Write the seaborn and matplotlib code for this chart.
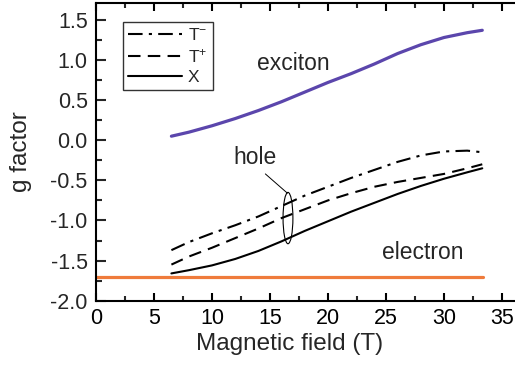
import matplotlib
matplotlib.use("Agg")
import matplotlib.pyplot as plt
from matplotlib.patches import Ellipse
import seaborn as sns
import numpy as np

# Magnetic field values (T) at which the g factors are given
field = [6.5, 8, 10, 12, 14, 16, 18, 20, 22, 24, 26, 28, 30, 32, 33.3]

# Hole g factor for the three complexes
g_trion_minus = [-1.37, -1.27, -1.16, -1.06, -0.95, -0.82, -0.69, -0.58,
                 -0.47, -0.37, -0.27, -0.19, -0.14, -0.13, -0.15]
g_trion_plus = [-1.55, -1.45, -1.34, -1.22, -1.10, -0.97, -0.86, -0.75,
                -0.66, -0.58, -0.52, -0.47, -0.42, -0.35, -0.30]
g_exciton_hole = [-1.66, -1.62, -1.56, -1.48, -1.38, -1.26, -1.13, -1.01,
                  -0.89, -0.78, -0.67, -0.57, -0.48, -0.40, -0.35]

# Exciton g factor
g_exciton = [0.05, 0.10, 0.18, 0.27, 0.37, 0.48, 0.60, 0.72,
             0.83, 0.95, 1.08, 1.19, 1.28, 1.34, 1.37]

# Electron g factor (field independent)
electron_field = [0, 33.4]
g_electron = [-1.71, -1.71]

legend_labels = ["T$^{-}$", "T$^{+}$", "X"]

sns.set_style("ticks")
plt.rcParams["font.family"] = ["Liberation Sans", "DejaVu Sans"]
plt.rcParams["mathtext.default"] = "regular"

W, H = 515, 369
fig = plt.figure(figsize=(W / 100, H / 100), dpi=100)
ax_left, ax_bottom, ax_top = 96, 300.7, 3
ax_width_px = 464  # x axis runs 0..40, wider than the figure
ax = fig.add_axes([ax_left / W, (H - ax_bottom) / H,
                   ax_width_px / W, (ax_bottom - ax_top) / H])

lw = 1.5
sns.lineplot(x=field, y=g_trion_minus, ax=ax, color="black", lw=lw,
             linestyle=(0, (7, 3, 1.5, 3)), label=legend_labels[0])
sns.lineplot(x=field, y=g_trion_plus, ax=ax, color="black", lw=lw,
             linestyle=(0, (6, 3.5)), label=legend_labels[1])
sns.lineplot(x=field, y=g_exciton_hole, ax=ax, color="black", lw=lw,
             linestyle="-", label=legend_labels[2])
sns.lineplot(x=field, y=g_exciton, ax=ax, color="#5B46AC", lw=2.3)
sns.lineplot(x=electron_field, y=g_electron, ax=ax, color="#EF7B3B", lw=2.3)

ax.set_xlim(0, 40)
ax.set_ylim(-2.0, 1.71)
ax.set_xticks(np.arange(0, 40.1, 5))
ax.set_xticks(np.arange(2.5, 40, 5), minor=True)
ax.set_yticks(np.arange(-2.0, 1.51, 0.5))
ax.set_yticks(np.arange(-1.75, 1.6, 0.5), minor=True)
ax.set_yticklabels([f"{v:.1f}" for v in np.arange(-2.0, 1.51, 0.5)])

for side in ["left", "bottom", "top"]:
    ax.spines[side].set_linewidth(1.5)
    ax.spines[side].set_color("black")
ax.spines["right"].set_visible(False)

ax.tick_params(axis="x", which="major", direction="in", length=6, width=1.5,
               labelsize=15.5, pad=5, top=True, colors="black")
ax.tick_params(axis="x", which="minor", direction="in", length=3.5, width=1.5,
               top=True)
ax.tick_params(axis="y", which="major", direction="in", length=7, width=1.5,
               labelsize=15.5, pad=6)
ax.tick_params(axis="y", which="minor", direction="in", length=4, width=1.5)

ax.set_xlabel("Magnetic field (T)", fontsize=17.5)
ax.set_ylabel("g factor", fontsize=17.5)
ax.xaxis.set_label_coords((290 - ax_left) / ax_width_px, -0.11)
ax.yaxis.set_label_coords(-0.137, 0.5)

ax.text(17.0, 0.96, "exciton", fontsize=16.5, ha="center", va="center")
ax.text(28.2, -1.40, "electron", fontsize=16.5, ha="center", va="center")
ax.text(13.7, -0.22, "hole", fontsize=16.5, ha="center", va="center")
ax.add_patch(Ellipse((16.55, -0.97), 0.85, 0.64, fill=False, lw=0.8,
                     edgecolor="black"))
ax.plot([16.5, 14.6], [-0.66, -0.42], color="black", lw=0.7)

leg = ax.legend(loc="upper left",
                bbox_to_anchor=(123 / W, 1 - 22 / H),
                bbox_transform=fig.transFigure,
                fontsize=12.5, frameon=True, fancybox=False,
                handlelength=3.1, handletextpad=0.35, borderpad=0.3,
                labelspacing=0.25, borderaxespad=0)
leg.get_frame().set_edgecolor("black")
leg.get_frame().set_linewidth(1.0)

fig.savefig("out.png", dpi=100)
